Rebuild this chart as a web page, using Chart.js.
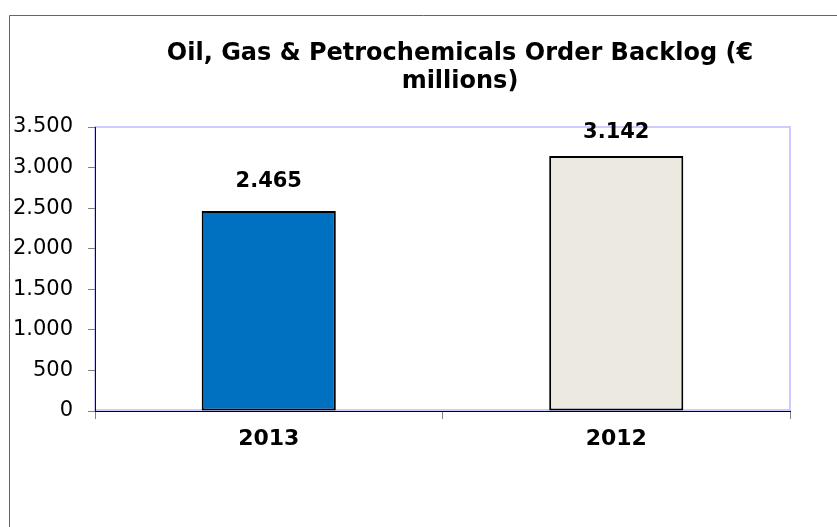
<!DOCTYPE html>
<html>
<head>
<meta charset="utf-8">
<title>Order Backlog</title>
<script src="https://cdn.jsdelivr.net/npm/chart.js@4.4.1/dist/chart.umd.min.js"></script>
<style>
    html, body { margin: 0; padding: 0; background: #ffffff; }
    canvas { display: block; }
</style>
</head>
<body>
<canvas id="backlogChart" width="837" height="527"></canvas>
<script>
var years = ['2013', '2012'];
var backlog = [2465, 3142];
var barColors = ['#0070C0', '#ECEAE0'];
var yTicks = [0, 500, 1000, 1500, 2000, 2500, 3000, 3500];
var titleLines = ['Oil, Gas & Petrochemicals Order Backlog (€', 'millions)'];

var FONT = "'DejaVu Sans', Verdana, sans-serif";

document.addEventListener("DOMContentLoaded", function () {
    drawBacklogChart();
});

// 3142 -> "3.142"
function formatThousands(v) {
    return String(v).replace(/\B(?=(\d{3})+(?!\d))/g, '.');
}

// outer frame + light plot border
var framePlugin = {
    id: 'frame',
    beforeDraw: function (chart) {
        var ctx = chart.ctx;
        var a = chart.chartArea;
        ctx.save();
        ctx.strokeStyle = '#666666';
        ctx.lineWidth = 1;
        ctx.beginPath();
        ctx.moveTo(9.5, chart.height);
        ctx.lineTo(9.5, 15.5);
        ctx.lineTo(chart.width, 15.5);
        ctx.stroke();

        ctx.strokeStyle = '#CCCCFF';
        ctx.lineWidth = 2;
        ctx.strokeRect(a.left, a.top, a.right - a.left, a.bottom - a.top - 1);
        ctx.restore();
    }
};

// value labels above each bar
var valueLabels = {
    id: 'valueLabels',
    afterDatasetsDraw: function (chart) {
        var ctx = chart.ctx;
        var meta = chart.getDatasetMeta(0);
        ctx.save();
        ctx.font = 'bold 21px ' + FONT;
        ctx.fillStyle = '#000000';
        ctx.textAlign = 'center';
        ctx.textBaseline = 'middle';
        meta.data.forEach(function (bar, i) {
            var y = Math.max(bar.y - 29, chart.chartArea.top + 6);
            ctx.fillText(formatThousands(backlog[i]), bar.x, y);
        });
        ctx.restore();
    }
};

var titleText = {
    id: 'titleText',
    afterDraw: function (chart) {
        var ctx = chart.ctx;
        ctx.save();
        ctx.font = 'bold 24px ' + FONT;
        ctx.fillStyle = '#000000';
        ctx.textAlign = 'center';
        ctx.textBaseline = 'middle';
        for (var i = 0; i < titleLines.length; i++) {
            ctx.fillText(titleLines[i], 460, 54 + i * 28);
        }
        ctx.restore();
    }
};

function drawBacklogChart() {
    var ctx = document.getElementById('backlogChart').getContext('2d');

    window.backlogChart = new Chart(ctx, {
        type: 'bar',
        data: {
            labels: years,
            datasets: [{
                data: backlog,
                backgroundColor: barColors,
                borderColor: '#000000',
                borderWidth: 2,
                borderSkipped: false,
                barPercentage: 0.386,
                categoryPercentage: 1
            }]
        },
        options: {
            responsive: false,
            animation: false,
            layout: {
                padding: { top: 127, right: 47, bottom: 0, left: 0 }
            },
            plugins: {
                legend: { display: false },
                tooltip: { enabled: false },
                title: { display: false }
            },
            scales: {
                x: {
                    grid: {
                        offset: true,
                        drawOnChartArea: false,
                        tickLength: 8,
                        tickColor: '#808080'
                    },
                    border: { color: '#000000', width: 1 },
                    ticks: {
                        color: '#000000',
                        padding: 7,
                        font: { family: FONT, size: 22, weight: 'bold' }
                    },
                    afterFit: function (scale) { scale.height = 116; }
                },
                y: {
                    min: yTicks[0],
                    max: yTicks[yTicks.length - 1],
                    afterBuildTicks: function (scale) {
                        scale.ticks = yTicks.map(function (v) { return { value: v }; });
                    },
                    grid: {
                        drawOnChartArea: false,
                        tickLength: 7,
                        tickColor: '#808080'
                    },
                    border: { color: '#000080', width: 1 },
                    ticks: {
                        color: '#000000',
                        padding: 15,
                        font: { family: FONT, size: 21 },
                        callback: function (value) { return formatThousands(value); }
                    },
                    afterFit: function (scale) { scale.width = 95; }
                }
            }
        },
        plugins: [framePlugin, valueLabels, titleText]
    });
}
</script>
</body>
</html>
